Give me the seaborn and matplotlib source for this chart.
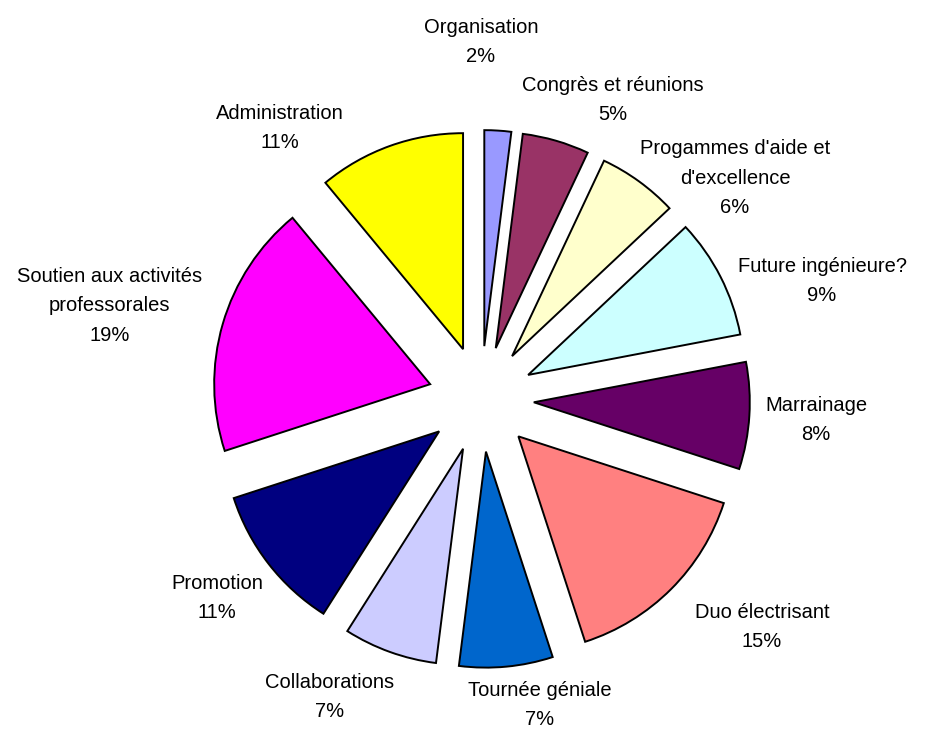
import matplotlib
matplotlib.use("Agg")
import matplotlib.pyplot as plt
import seaborn as sns

# data
categories = ["Organisation", "Congrès et réunions", "Progammes d'aide et\nd'excellence",
              "Future ingénieure?", "Marrainage", "Duo électrisant", "Tournée géniale",
              "Collaborations", "Promotion", "Soutien aux activités\nprofessorales",
              "Administration"]
shares = [2, 5, 6, 9, 8, 15, 7, 7, 11, 19, 11]
colors = ["#9999FF", "#993366", "#FFFFCC", "#CCFFFF", "#660066", "#FF8080",
          "#0066CC", "#CCCCFF", "#000080", "#FF00FF", "#FFFF00"]

# label anchor positions (in pie-radius units)
label_x = [0.0, 0.611, 1.176, 1.579, 1.551, 1.301, 0.273, -0.699, -1.222, -1.718, -0.931]
label_y = [1.653, 1.384, 1.023, 0.546, -0.097, -1.056, -1.417, -1.380, -0.921, 0.431, 1.255]

sns.set_theme(style="white")
plt.rcParams['font.family'] = ['Liberation Sans', 'DejaVu Sans']

fig = plt.figure(figsize=(9.3, 7.29), dpi=100)
ax = fig.add_axes([0, 0, 1, 1])

ax.pie(shares, colors=colors, startangle=90, counterclock=False,
       explode=[0.245] * len(shares),
       wedgeprops=dict(edgecolor="black", linewidth=1.4))

for name, val, x, y in zip(categories, shares, label_x, label_y):
    ax.text(x, y, f"{name}\n{val}%", ha="center", va="center",
            fontsize=14.5, linespacing=1.7, color="black")

ax.set_xlim(-2.227, 2.079)
ax.set_ylim(-1.528, 1.847)
ax.set_aspect("equal")
ax.axis("off")

fig.savefig("out.png", dpi=100)
plt.close(fig)
